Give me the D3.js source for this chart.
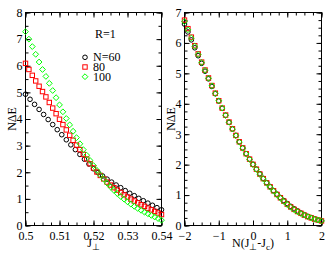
<!DOCTYPE html>
<html>
<head>
<meta charset="utf-8">
<script src="https://cdn.jsdelivr.net/npm/d3@7"></script>
<style>
  body { margin: 0; background: #fff; }
  svg { display: block; }
  text { font-family: "Liberation Serif", "Times New Roman", serif; fill: #000; }
</style>
</head>
<body>
<svg id="chart" width="332" height="257"></svg>
<script>
// ---- data ----
const seriesNames = ["N=60", "80", "100"];
const seriesColors = ["#000000", "#ff0000", "#00ff00"];
const seriesShapes = ["circle", "square", "diamond"];

// left panel: N dE vs J_perp
const jN60 = d3.range(31).map(i => 0.5 + i * 0.04 / 30);
const jN80 = d3.range(41).map(i => 0.5 + i * 0.001);
const jN100 = d3.range(41).map(i => 0.5 + i * 0.001);

const gapN60 = [4.93, 4.74, 4.55, 4.36, 4.17, 3.98, 3.79, 3.60, 3.41, 3.22, 3.03,
  2.85, 2.67, 2.49, 2.31, 2.13, 1.99, 1.86, 1.74, 1.63, 1.52, 1.42, 1.31, 1.21,
  1.12, 1.02, 0.93, 0.84, 0.76, 0.67, 0.59];
const gapN80 = [6.09, 5.86, 5.64, 5.43, 5.23, 5.03, 4.83, 4.62, 4.41, 4.20, 3.99,
  3.79, 3.59, 3.39, 3.20, 3.02, 2.85, 2.67, 2.50, 2.32, 2.16, 2.01, 1.88, 1.75,
  1.63, 1.52, 1.42, 1.33, 1.24, 1.15, 1.07, 0.99, 0.92, 0.85, 0.78, 0.72, 0.65,
  0.59, 0.53, 0.47, 0.41];
const gapN100 = [7.28, 7.00, 6.72, 6.43, 6.14, 5.86, 5.60, 5.34, 5.07, 4.80, 4.53,
  4.27, 4.02, 3.78, 3.54, 3.30, 3.07, 2.85, 2.64, 2.44, 2.25, 2.07, 1.90, 1.74,
  1.59, 1.45, 1.32, 1.20, 1.09, 0.99, 0.89, 0.80, 0.72, 0.64, 0.57, 0.50, 0.44,
  0.38, 0.32, 0.26, 0.20];

// right panel: N dE vs N(J_perp - J_c)
const scaledX = d3.range(41).map(i => -2 + i * 0.1);
const collapseN60 = [6.62, 6.36, 6.10, 5.84, 5.58, 5.33, 5.07, 4.82, 4.57, 4.33, 4.09,
  3.85, 3.62, 3.39, 3.17, 2.96, 2.75, 2.55, 2.36, 2.18, 2.01, 1.85, 1.70, 1.55,
  1.41, 1.28, 1.15, 1.03, 0.92, 0.82, 0.72, 0.63, 0.55, 0.48, 0.41, 0.35, 0.30,
  0.26, 0.22, 0.18, 0.15];
const collapseN80 = [6.75, 6.47, 6.19, 5.91, 5.64, 5.37, 5.11, 4.85, 4.60, 4.35, 4.10,
  3.86, 3.63, 3.40, 3.18, 2.96, 2.75, 2.55, 2.36, 2.18, 2.01, 1.85, 1.69, 1.54,
  1.40, 1.27, 1.14, 1.02, 0.91, 0.80, 0.70, 0.61, 0.53, 0.46, 0.40, 0.34, 0.29,
  0.25, 0.21, 0.18, 0.15];
const collapseN100 = [6.70, 6.43, 6.16, 5.89, 5.62, 5.36, 5.10, 4.84, 4.59, 4.34, 4.10,
  3.86, 3.62, 3.39, 3.17, 2.95, 2.74, 2.54, 2.35, 2.17, 2.00, 1.84, 1.68, 1.53,
  1.39, 1.26, 1.13, 1.01, 0.90, 0.79, 0.69, 0.60, 0.52, 0.45, 0.39, 0.34, 0.29,
  0.25, 0.21, 0.18, 0.15];

const leftXTicks = [0.5, 0.51, 0.52, 0.53, 0.54];
const leftYTicks = [0, 1, 2, 3, 4, 5, 6, 7, 8];
const rightXTicks = [-2, -1, 0, 1, 2];
const rightYTicks = [0, 1, 2, 3, 4, 5, 6, 7];

const svg = d3.select("#chart");
const plotTop = 12.5, plotBottom = 225.5;

const panels = [
  {
    left: 25.5, right: 161.5,
    xDomain: [0.5, 0.54], yDomain: [0, 8],
    xTicks: leftXTicks, yTicks: leftYTicks,
    xMinor: d3.range(0.5, 0.5401, 0.0025), yMinor: d3.range(0, 8.01, 0.5),
    xFmt: d => d === 0.5 ? "0.5" : d3.format(".2f")(d),
    series: [[jN60, gapN60], [jN80, gapN80], [jN100, gapN100]]
  },
  {
    left: 184.5, right: 321.5,
    xDomain: [-2, 2], yDomain: [0, 7],
    xTicks: rightXTicks, yTicks: rightYTicks,
    xMinor: d3.range(-2, 2.01, 0.25), yMinor: d3.range(0, 7.01, 0.25),
    xFmt: d => d3.format("d")(d),
    series: [[scaledX, collapseN60], [scaledX, collapseN80], [scaledX, collapseN100]]
  }
];

function marker(sel, shape) {
  if (shape === "circle") {
    sel.append("circle").attr("r", 2.3);
  } else if (shape === "square") {
    sel.append("rect").attr("x", -2.2).attr("y", -2.2).attr("width", 4.4).attr("height", 4.4);
  } else {
    sel.append("path").attr("d", "M0,-2.9L2.9,0L0,2.9L-2.9,0Z");
  }
}

panels.forEach(p => {
  const x = d3.scaleLinear().domain(p.xDomain).range([p.left, p.right]);
  const y = d3.scaleLinear().domain(p.yDomain).range([plotBottom, plotTop]);
  const g = svg.append("g");

  // frame
  g.append("rect")
    .attr("x", p.left).attr("y", plotTop)
    .attr("width", p.right - p.left).attr("height", plotBottom - plotTop)
    .attr("fill", "none").attr("stroke", "#000").attr("stroke-width", 1);

  // ticks on all four sides, pointing in
  const addAxis = (axis, tx, ty) => {
    const a = g.append("g").attr("transform", `translate(${tx},${ty})`).call(axis);
    a.select(".domain").remove();
    a.selectAll("line").attr("stroke", "#000");
    a.selectAll("text").attr("font-size", 12).attr("font-family", '"Liberation Serif", serif');
    return a;
  };
  const none = () => "";
  addAxis(d3.axisBottom(x).tickValues(p.xMinor).tickSize(-3).tickFormat(none), 0, plotBottom);
  addAxis(d3.axisTop(x).tickValues(p.xMinor).tickSize(-3).tickFormat(none), 0, plotTop);
  addAxis(d3.axisLeft(y).tickValues(p.yMinor).tickSize(-3).tickFormat(none), p.left, 0);
  addAxis(d3.axisRight(y).tickValues(p.yMinor).tickSize(-3).tickFormat(none), p.right, 0);
  addAxis(d3.axisBottom(x).tickValues(p.xTicks).tickSize(-5).tickPadding(6).tickFormat(p.xFmt), 0, plotBottom);
  addAxis(d3.axisTop(x).tickValues(p.xTicks).tickSize(-5).tickFormat(none), 0, plotTop);
  addAxis(d3.axisLeft(y).tickValues(p.yTicks).tickSize(-5).tickPadding(3).tickFormat(d3.format("d")), p.left, 0);
  addAxis(d3.axisRight(y).tickValues(p.yTicks).tickSize(-5).tickFormat(none), p.right, 0);

  // y title
  g.append("text")
    .attr("transform", `translate(${p.left - 9.5},${(plotTop + plotBottom) / 2}) rotate(-90)`)
    .attr("text-anchor", "middle").attr("font-size", 12)
    .text("NΔE");

  // points
  p.series.forEach(([xs, ys], k) => {
    const pts = g.append("g")
      .attr("fill", "none").attr("stroke", seriesColors[k]).attr("stroke-width", 1)
      .selectAll("g")
      .data(xs.map((v, i) => [v, ys[i]]))
      .join("g")
      .attr("transform", d => `translate(${x(d[0])},${y(d[1])})`);
    marker(pts, seriesShapes[k]);
  });
});

// x titles
const t1 = svg.append("text").attr("x", 93.5).attr("y", 247).attr("text-anchor", "middle").attr("font-size", 12);
t1.append("tspan").text("J");
t1.append("tspan").attr("font-size", 9).attr("dy", 3).text("⊥");

const t2 = svg.append("text").attr("x", 253).attr("y", 247).attr("text-anchor", "middle").attr("font-size", 12);
t2.append("tspan").text("N(J");
t2.append("tspan").attr("font-size", 9).attr("dy", 3).text("⊥");
t2.append("tspan").attr("dy", -3).text("-J");
t2.append("tspan").attr("font-size", 9).attr("dy", 3).text("c");
t2.append("tspan").attr("dy", -3).text(")");

// legend
svg.append("text").attr("x", 95).attr("y", 37.5).attr("font-size", 12).text("R=1");
const legend = svg.append("g").selectAll("g")
  .data(seriesNames)
  .join("g")
  .attr("transform", (d, i) => `translate(85,${57.3 + i * 9.7})`);
legend.each(function (d, i) {
  const sel = d3.select(this);
  const m = sel.append("g").attr("fill", "none").attr("stroke", seriesColors[i]).attr("stroke-width", 1);
  marker(m, seriesShapes[i]);
  sel.append("text").attr("x", 8).attr("y", 4).attr("font-size", 12).text(d);
});
</script>
</body>
</html>
